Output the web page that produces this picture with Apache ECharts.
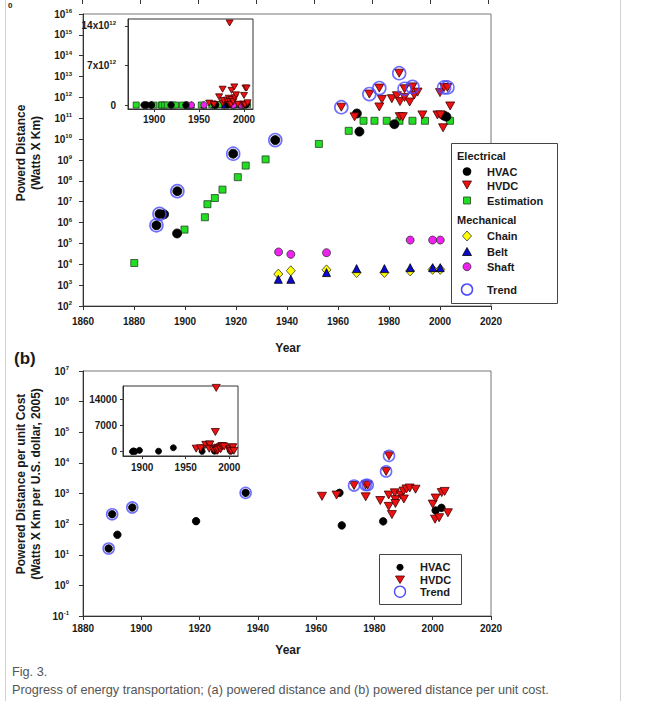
<!DOCTYPE html>
<html><head><meta charset="utf-8">
<script src="https://cdn.jsdelivr.net/npm/echarts@6/dist/echarts.min.js"></script>
<style>
html,body{margin:0;padding:0;background:#fff;}
#chart{position:absolute;left:0;top:0;width:648px;height:701px;}
.cap{position:absolute;left:12px;font-family:'Liberation Sans',Arial,sans-serif;font-size:12.7px;color:#555;white-space:nowrap;line-height:14px;}
</style></head><body>
<div id="chart"></div>
<div class="cap" style="top:665px">Fig. 3.</div>
<div class="cap" style="top:683px">Progress of energy transportation; (a) powered distance and (b) powered distance per unit cost.</div>
<script>
// ---------- DATA (a): powered distance, Watts x Km ----------
const hvacA = [[1888.8,7.4e5],[1890,2.6e6],[1891.8,2.5e6],[1896.9,3.0e5],[1897,3.2e7],[1918.9,2.0e9],[1935.4,9.0e9],
  [1967.4,1.7e11],[1968.4,2.3e10],[1982.1,5.2e10],[2001.5,1.35e11],[2002.5,1.2e11]];
const hvdcA = [[1961.3,3.4e11],[1966.5,1.17e11],[1972.3,1.45e12],[1976.2,2.8e12],[1976.2,3.5e11],[1977.2,8.1e11],
  [1981.1,8.7e11],[1983.1,1.2e12],[1984,1.45e13],[1984.3,6.3e11],[1984.2,1.2e11],[1985.4,1.2e11],[1986.1,2.6e12],
  [1986.1,1.0e12],[1988.1,6.0e11],[1989.2,3.2e12],[1989.9,1.3e12],[1991.2,1.8e12],[1993.1,1.45e11],[1999,1.45e11],
  [2000,1.7e12],[2000.2,1.45e11],[2001.2,3.5e10],[2001.6,3.0e12],[2002.9,3.0e12],[2004,3.9e11]];
const estimationA = [[1880.1,1.15e4],[1899.8,4.6e5],[1907.8,1.8e6],[1908.8,7.6e6],[1911.7,1.5e7],[1914.7,3.8e7],
  [1920.7,1.5e8],[1923.8,5.4e8],[1931.6,1.07e9],[1952.5,5.9e9],[1964.2,2.5e10],[1970,7.6e10],[1974.3,7.6e10],
  [1979.1,7.6e10],[1984.1,7.6e10],[1989.2,7.6e10],[1994.1,7.6e10],[2003.9,7.6e10]];
const chainA = [[1936.6,3.4e3],[1941.5,4.9e3],[1955.5,5.4e3],[1967.3,4.0e3],[1978.2,4.0e3],[1988.3,4.8e3],[1997.1,5.7e3],[2000.1,5.7e3]];
const beltA = [[1936.6,1.9e3],[1941.5,1.9e3],[1955.5,4.0e3],[1967.3,6.2e3],[1978.2,6.2e3],[1988.3,6.9e3],[1997.1,6.9e3],[2000.1,6.9e3]];
const shaftA = [[1936.7,3.9e4],[1941.5,3.0e4],[1955.5,3.6e4],[1988.3,1.45e5],[1997.1,1.45e5],[2000.1,1.45e5]];
const trendA = [[1888.8,7.4e5],[1890,2.6e6],[1897,3.2e7],[1918.9,2.0e9],[1935.4,9.0e9],[1961.3,3.4e11],[1972.3,1.45e12],
  [1976.2,2.8e12],[1984,1.45e13],[1986.1,2.6e12],[1989.2,3.2e12],[2001.6,3.0e12],[2002.9,3.0e12]];

// ---------- DATA (b): powered distance per unit cost ----------
const hvacB = [[1888.8,16],[1890,210],[1891.8,45],[1896.9,350],[1918.8,125],[1935.8,1050],[1968,1050],[1968.8,91],
  [1983,123],[2001,280],[2003,340]];
const hvdcB = [[1962,810],[1967,890],[1973,1820],[1977,1900],[1977.7,1900],[1977,780],[1982,590],[1984,5250],[1985,17000],
  [1984.9,890],[1987,1050],[1984.9,380],[1986,205],[1987.2,630],[1987.2,470],[1989,890],[1990,1200],[1990.1,660],
  [1991,1410],[1992.1,1510],[1994.1,1380],[2000,450],[2001,710],[2000.8,145],[2002.2,162],[2003.1,1070],[2004.1,1170],[2005.2,235]];
const trendB = [[1888.8,16],[1890,210],[1896.9,350],[1935.8,1050],[1973,1820],[1977,1900],[1977.7,1900],[1984,5250],[1985,17000]];

// ---------- tick labels ----------
const insetYearTicks = [1900,1950,2000];
const insetATicks = [0,7e12,14e12];
const insetBTicks = [0,7000,14000];

const FONT = "'Liberation Sans', Arial, Helvetica, sans-serif";
const TXT = '#1a1a1a';
const supRich = {
  b:{fontSize:10,fontWeight:'bold',fontFamily:FONT,color:TXT,lineHeight:12,verticalAlign:'middle'},
  s:{fontSize:6,fontWeight:'bold',fontFamily:FONT,color:TXT,lineHeight:6,verticalAlign:'top'}
};
function logLabel(v){ return '{b|10}{s|' + Math.round(Math.log10(v)) + '}'; }
function insetALabel(v){ return v === 0 ? '{b|0}' : '{b|' + Math.round(v/1e12) + 'x10}{s|12}'; }
const plain = v => String(Math.round(v));

function axLine(){ return {show:true,onZero:false,lineStyle:{color:'#333',width:1}}; }
function axTick(len, custom){ const t={show:true,inside:false,length:len,lineStyle:{color:'#333',width:1}}; if(custom) t.customValues=custom; return t; }
function lbl(margin, extra){ return Object.assign({show:true,margin,fontSize:10,fontWeight:'bold',fontFamily:FONT,color:TXT,showMinLabel:true,showMaxLabel:true,formatter:plain}, extra||{}); }

const grids = [
  {left:83, top:14, width:408, height:292, show:true, borderColor:'#777', borderWidth:1, backgroundColor:'#fff'},
  {left:128, top:19, width:125, height:90, show:true, borderColor:'#333', borderWidth:1, backgroundColor:'#fff'},
  {left:83, top:371, width:408, height:245, show:true, borderColor:'#777', borderWidth:1, backgroundColor:'#fff'},
  {left:123, top:386, width:115, height:70, show:true, borderColor:'#333', borderWidth:1, backgroundColor:'#fff'}
];
const xAxes = [
  {type:'value',gridIndex:0,min:1860,max:2020,interval:20,axisLine:axLine(),axisTick:axTick(4),axisLabel:lbl(10),splitLine:{show:false}},
  {type:'value',gridIndex:1,min:1871,max:2010,axisLine:axLine(),axisTick:axTick(3,insetYearTicks),axisLabel:lbl(5,{customValues:insetYearTicks}),splitLine:{show:false}},
  {type:'value',gridIndex:2,min:1880,max:2020,interval:20,axisLine:axLine(),axisTick:axTick(4),axisLabel:lbl(7),splitLine:{show:false}},
  {type:'value',gridIndex:3,min:1878,max:2010,axisLine:axLine(),axisTick:axTick(3,insetYearTicks),axisLabel:lbl(6,{customValues:insetYearTicks}),splitLine:{show:false}}
];
const yAxes = [
  {type:'log',gridIndex:0,logBase:10,min:1e2,max:1e16,interval:1,splitNumber:14,axisLine:axLine(),axisTick:axTick(4),
    axisLabel:lbl(11,{formatter:logLabel,rich:supRich}),splitLine:{show:false},minorTick:{show:false}},
  {type:'value',gridIndex:1,min:-0.7e12,max:15.2e12,axisLine:axLine(),axisTick:axTick(3,insetATicks),
    axisLabel:lbl(12,{customValues:insetATicks,formatter:insetALabel,rich:supRich}),splitLine:{show:false}},
  {type:'log',gridIndex:2,logBase:10,min:0.1,max:1e7,interval:1,splitNumber:8,axisLine:axLine(),axisTick:axTick(4),
    axisLabel:lbl(14,{formatter:logLabel,rich:supRich}),splitLine:{show:false},minorTick:{show:false}},
  {type:'value',gridIndex:3,min:-1150,max:17500,axisLine:axLine(),axisTick:axTick(3,insetBTicks),
    axisLabel:lbl(6,{customValues:insetBTicks}),splitLine:{show:false}}
];

function sc(name, data, ax, symbol, size, color, border, extra){
  return Object.assign({type:'scatter', name, data, xAxisIndex:ax, yAxisIndex:ax, symbol, symbolSize:size,
    itemStyle:{color, borderColor:border, borderWidth:0.8, opacity:1}, emphasis:{disabled:true}, silent:true}, extra||{});
}
const GREEN='#22dd22', YEL='#ffff00', BLUE='#0a0ad0', MAG='#ee22ee', RED='#ee1111', RING='#4a4aff';
const down = {symbolRotate:180};
const ring = (data, ax, size) => ({type:'scatter',name:'Trend',data,xAxisIndex:ax,yAxisIndex:ax,symbol:'circle',symbolSize:size,
  itemStyle:{color:'rgba(0,0,0,0)',borderColor:RING,borderWidth:1.6},silent:true,z:3});

const series = [
  sc('Estimation', estimationA, 0, 'rect', 7, GREEN, '#224422'),
  sc('Chain', chainA, 0, 'diamond', [9,10], YEL, '#333'),
  sc('Belt', beltA, 0, 'triangle', [8,8], BLUE, '#000'),
  sc('Shaft', shaftA, 0, 'circle', 8, MAG, '#333'),
  sc('HVAC', hvacA, 0, 'circle', 9, '#000', '#000'),
  sc('HVDC', hvdcA, 0, 'triangle', [9,8], RED, '#400', down),
  ring(trendA, 0, 13),
  sc('Estimation', estimationA, 1, 'rect', 6, GREEN, '#224422'),
  sc('Chain', chainA, 1, 'diamond', [6,7], YEL, '#333'),
  sc('Belt', beltA, 1, 'triangle', [6,6], BLUE, '#000'),
  sc('Shaft', shaftA, 1, 'circle', 6.5, MAG, '#333'),
  sc('HVAC', hvacA, 1, 'circle', 6.5, '#000', '#000'),
  sc('HVDC', hvdcA, 1, 'triangle', [7,6], RED, '#400', down),
  sc('HVAC', hvacB, 2, 'circle', 7.5, '#000', '#000'),
  sc('HVDC', hvdcB, 2, 'triangle', [9,8], RED, '#400', down),
  ring(trendB, 2, 11),
  sc('HVAC', hvacB, 3, 'circle', 6, '#000', '#000'),
  sc('HVDC', hvdcB, 3, 'triangle', [8,7], RED, '#400', down)
];

// ---------- decorations: titles, legends, frame ----------
const G = [];
const T = (x,y,text,size,align) => G.push({type:'text',x,y,z:100,style:{text,fontFamily:FONT,fontWeight:'bold',fontSize:size,fill:TXT,textAlign:align||'left',textVerticalAlign:'middle'}});
G.push({type:'line',z:100,shape:{x1:5.5,y1:0,x2:5.5,y2:701},style:{stroke:'#d2d2d2',lineWidth:1}});
G.push({type:'line',z:100,shape:{x1:620.5,y1:0,x2:620.5,y2:701},style:{stroke:'#d2d2d2',lineWidth:1}});
for(let k=0;k<8;k++){ const x=Math.round(81.7+k*58.1)+0.5; G.push({type:'line',z:100,shape:{x1:x,y1:0,x2:x,y2:4},style:{stroke:'#333',lineWidth:1}}); }
T(8,5,'0',8);
// axis titles
function vtitle(x,y,text){ G.push({type:'text',x,y,rotation:Math.PI/2,z:100,style:{text,fontFamily:FONT,fontWeight:'bold',fontSize:12,fill:TXT,textAlign:'center',textVerticalAlign:'middle'}}); }
vtitle(21,153,'Powerd Distance'); vtitle(36,153,'(Watts X Km)');
vtitle(21,484,'Powered Distance per unit Cost'); vtitle(36,484,'(Watts X Km per U.S. dollar, 2005)');
T(288,348,'Year',12,'center');
T(288,650,'Year',12,'center');
T(14,358,'(b)',17);
// legend (a)
G.push({type:'rect',z:99,shape:{x:451.5,y:143.5,width:106,height:160},style:{fill:'#fff',stroke:'#444',lineWidth:1}});
const mx=467, tx=487;
T(457,155.5,'Electrical',11);
G.push({type:'circle',z:101,shape:{cx:mx,cy:171.5,r:4.3},style:{fill:'#000'}});
T(tx,171.5,'HVAC',11);
G.push({type:'polygon',z:101,shape:{points:[[mx-4.5,181],[mx+4.5,181],[mx,189]]},style:{fill:RED,stroke:'#400',lineWidth:0.8}});
T(tx,185.5,'HVDC',11);
G.push({type:'rect',z:101,shape:{x:mx-3.5,y:197,width:7,height:7},style:{fill:GREEN,stroke:'#224422',lineWidth:0.8}});
T(tx,200.5,'Estimation',11);
T(457,219.5,'Mechanical',11);
G.push({type:'polygon',z:101,shape:{points:[[mx,231],[mx+4.5,236],[mx,241],[mx-4.5,236]]},style:{fill:YEL,stroke:'#333',lineWidth:0.8}});
T(tx,236,'Chain',11);
G.push({type:'polygon',z:101,shape:{points:[[mx,247.5],[mx+4.5,255.5],[mx-4.5,255.5]]},style:{fill:BLUE,stroke:'#000',lineWidth:0.8}});
T(tx,251.5,'Belt',11);
G.push({type:'circle',z:101,shape:{cx:mx,cy:266.7,r:4},style:{fill:MAG,stroke:'#333',lineWidth:0.8}});
T(tx,266.7,'Shaft',11);
G.push({type:'circle',z:101,shape:{cx:mx,cy:289.5,r:5.5},style:{fill:'none',stroke:RING,lineWidth:1.5}});
T(tx,289.5,'Trend',11);
// legend (b)
G.push({type:'rect',z:99,shape:{x:379.5,y:554.5,width:82,height:50},style:{fill:'#fff',stroke:'#444',lineWidth:1}});
G.push({type:'circle',z:101,shape:{cx:400,cy:567.3,r:3.5},style:{fill:'#000'}});
T(420,567.3,'HVAC',11);
G.push({type:'polygon',z:101,shape:{points:[[395.5,576],[404.5,576],[400,583.5]]},style:{fill:RED,stroke:'#400',lineWidth:0.8}});
T(420,579.5,'HVDC',11);
G.push({type:'circle',z:101,shape:{cx:400,cy:591.7,r:5.5},style:{fill:'none',stroke:RING,lineWidth:1.3}});
T(420,591.7,'Trend',11);

const chart = echarts.init(document.getElementById('chart'), null, {renderer:'svg', width:648, height:701});
chart.setOption({animation:false, backgroundColor:'#fff', grid:grids, xAxis:xAxes, yAxis:yAxes, series, graphic:G});
</script></body></html>
